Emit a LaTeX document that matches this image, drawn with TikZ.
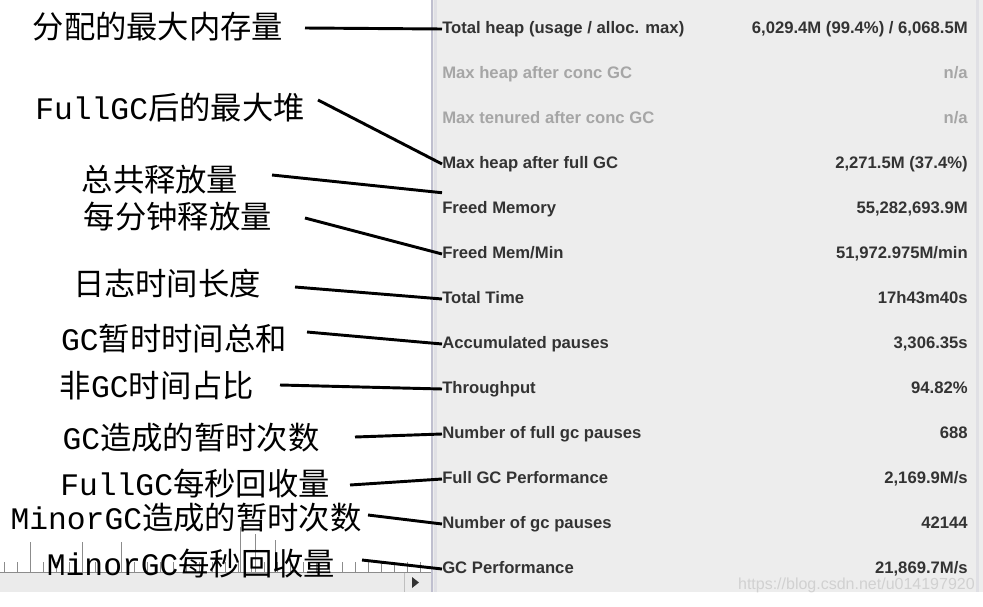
\documentclass[tikz,border=0pt]{standalone}
\usepackage{fontspec}
\setmainfont{Liberation Sans}
\newfontfamily\cjk{Noto Sans CJK SC}
\newfontfamily\lmono{Liberation Mono}
\begin{document}
\begin{tikzpicture}[x=0.75pt,y=-0.75pt,
  lab/.style={font=\cjk\fontsize{23.5}{25}\selectfont, inner sep=0pt},
  rowl/.style={anchor=west, font=\bfseries\fontsize{12.5}{14}\selectfont, text=black!80, inner sep=0pt, text height=9pt, text depth=3pt},
  rowv/.style={anchor=east, font=\bfseries\fontsize{12.5}{14}\selectfont, text=black!80, inner sep=0pt, text height=9pt, text depth=3pt},
  dim/.style={text=black!35},
  ptr/.style={line width=2.2pt, black}]
\useasboundingbox (0,0) rectangle (983,607);
\fill[white] (0,0) rectangle (983,607);
% panel
\fill[black!7] (432,0) rectangle (983,592);
\fill[blue!25!black!25] (431,0) rectangle (433,592);
\fill[blue!15!black!12] (434,0) rectangle (437,592);
\fill[blue!15!black!12] (976,0) rectangle (979,592);
% ruler & scrollbar
\foreach \x/\h in {0/10,13/10,26/30,39/10,52/10,65/10,78/30,91/10,104/10,117/30,130/10,143/10,156/10,169/10,182/10,195/10,208/10,221/10,234/10,247/10,260/10,273/10,286/10,299/10,312/10,325/10,338/10,351/10,364/10,377/10,390/10,403/10,416/10}
  \draw[black!45] (\x+4,572) -- (\x+4,572-\h);
\foreach \x/\h in {240/45,255/38,275/32}
  \draw[black!45] (\x,572) -- (\x,572-\h);
\draw[black!45] (0,572) -- (431,572);
\fill[black!8] (0,573) rectangle (431,592);
\draw[black!25] (404,573) -- (404,592);
\fill[black!80] (412,577) -- (419,582.5) -- (412,588) -- cycle;
% rows
\foreach \n/\y/\t/\v/\s in {
 r1/29/{Total heap (usage / alloc. max)}/{6,029.4M (99.4\%) / 6,068.5M}/{},
 r2/74/{Max heap after conc GC}/{n/a}/dim,
 r3/119/{Max tenured after conc GC}/{n/a}/dim,
 r4/164/{Max heap after full GC}/{2,271.5M (37.4\%)}/{},
 r5/209/{Freed Memory}/{55,282,693.9M}/{},
 r6/254/{Freed Mem/Min}/{51,972.975M/min}/{},
 r7/299/{Total Time}/{17h43m40s}/{},
 r8/344/{Accumulated pauses}/{3,306.35s}/{},
 r9/389/{Throughput}/{94.82\%}/{},
 r10/434/{Number of full gc pauses}/{688}/{},
 r11/479/{Full GC Performance}/{2,169.9M/s}/{},
 r12/524/{Number of gc pauses}/{42144}/{},
 r13/569/{GC Performance}/{21,869.7M/s}/{}}
{
 \node[rowl,\s] (\n) at (442,\y) {\t};
 \node[rowv,\s] (\n v) at (968,\y) {\v};
}
\node[anchor=east, text=black!18, font=\fontsize{12}{13}\selectfont, inner sep=0pt] (wm) at (975,585) {https://blog.csdn.net/u014197920};
% labels
\node[lab] (a1) at (158,27) {分配的最大内存量};
\node[lab] (a2) at (170,108) {{\lmono FullGC}后的最大堆};
\node[lab] (a3) at (160,180) {总共释放量};
\node[lab] (a4) at (178,217) {每分钟释放量};
\node[lab] (a5) at (167,284) {日志时间长度};
\node[lab] (a6) at (174,339) {{\lmono GC}暂时时间总和};
\node[lab] (a7) at (157,386) {非{\lmono GC}时间占比};
\node[lab] (a8) at (191,438) {{\lmono GC}造成的暂时次数};
\node[lab] (a9) at (195,484) {{\lmono FullGC}每秒回收量};
\node[lab] (a10) at (186,518) {{\lmono MinorGC}造成的暂时次数};
\node[lab] (a11) at (191,564) {{\lmono MinorGC}每秒回收量};
% pointers
\coordinate (p1) at (305,28); \coordinate (p2) at (318,100);
\coordinate (p3) at (272,175); \coordinate (p4) at (305,218);
\coordinate (p5) at (295,287); \coordinate (p6) at (307,332);
\coordinate (p7) at (280,385); \coordinate (p8) at (355,437);
\coordinate (p9) at (350,485); \coordinate (p10) at (368,515);
\coordinate (p11) at (362,560);
\draw[ptr] (p1) -- (r1.west);
\draw[ptr] (p2) -- (r4.west);
\draw[ptr] (p3) -- ([yshift=6]r5.north west);
\draw[ptr] (p4) -- (r6.west);
\draw[ptr] (p5) -- (r7.west);
\draw[ptr] (p6) -- (r8.west);
\draw[ptr] (p7) -- (r9.west);
\draw[ptr] (p8) -- (r10.west);
\draw[ptr] (p9) -- (r11.west);
\draw[ptr] (p10) -- (r12.west);
\draw[ptr] (p11) -- (r13.west);
\end{tikzpicture}
\end{document}
